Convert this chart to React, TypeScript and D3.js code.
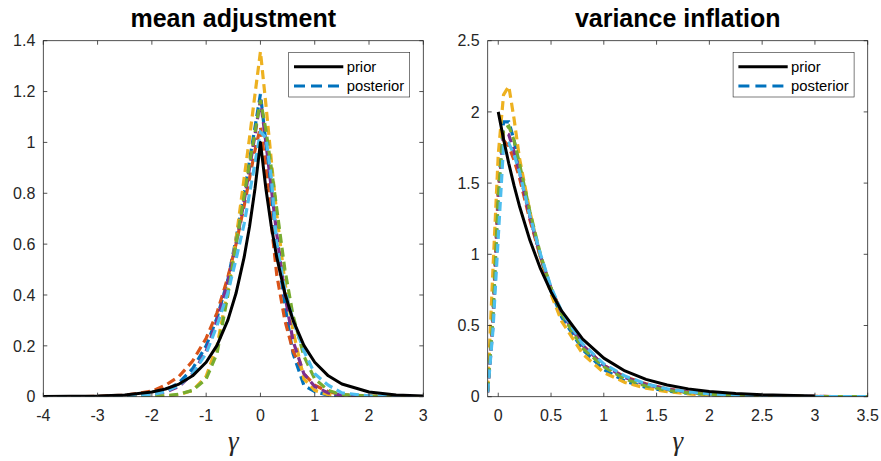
import * as d3 from "d3";

// ---- left panel: mean adjustment ----
const leftX = [-4, -3, -2.5, -2, -1.75, -1.5, -1.25, -1, -0.8, -0.6, -0.45, -0.3, -0.2, -0.1, 0, 0.1, 0.2, 0.3, 0.45, 0.6, 0.8, 1, 1.25, 1.5, 2, 2.5, 3];
const leftPrior = [0.0003, 0.0025, 0.0067, 0.0183, 0.0302, 0.0498, 0.0821, 0.1353, 0.2019, 0.3012, 0.4066, 0.5488, 0.6703, 0.8187, 1.0, 0.8187, 0.6703, 0.5488, 0.4066, 0.3012, 0.2019, 0.1353, 0.0821, 0.0498, 0.0183, 0.0067, 0.0025];
const leftBlue = [0, 0.0005, 0.003, 0.012, 0.025, 0.055, 0.11, 0.2, 0.31, 0.46, 0.62, 0.8, 0.93, 1.06, 1.19, 1.0, 0.8, 0.6, 0.36, 0.17, 0.045, 0.02, 0.006, 0.002, 0, 0, 0];
const leftOrange = [0, 0.001, 0.006, 0.022, 0.045, 0.08, 0.14, 0.23, 0.33, 0.47, 0.6, 0.75, 0.86, 0.97, 1.06, 0.9, 0.68, 0.48, 0.3, 0.18, 0.09, 0.045, 0.02, 0.008, 0.003, 0.001, 0];
const leftYellow = [0, 0, 0, 0.001, 0.003, 0.008, 0.025, 0.08, 0.2, 0.42, 0.62, 0.86, 1.02, 1.19, 1.357, 1.15, 0.93, 0.72, 0.45, 0.26, 0.07, 0.025, 0.008, 0.003, 0.001, 0, 0];
const leftPurple = [0, 0, 0.002, 0.008, 0.018, 0.04, 0.09, 0.18, 0.3, 0.45, 0.6, 0.77, 0.9, 1.03, 1.167, 1.0, 0.82, 0.64, 0.4, 0.22, 0.09, 0.04, 0.015, 0.005, 0.001, 0, 0];
const leftGreen = [0, 0, 0, 0.001, 0.004, 0.01, 0.025, 0.07, 0.17, 0.4, 0.6, 0.79, 0.92, 1.04, 1.167, 1.05, 0.9, 0.74, 0.5, 0.32, 0.16, 0.07, 0.025, 0.008, 0.002, 0, 0];
const leftCyan = [0, 0, 0.002, 0.008, 0.02, 0.045, 0.09, 0.17, 0.28, 0.41, 0.54, 0.68, 0.8, 0.92, 1.04, 1.02, 0.86, 0.6, 0.42, 0.3, 0.18, 0.09, 0.045, 0.015, 0.003, 0.001, 0];
const leftXTicks = [-4, -3, -2, -1, 0, 1, 2, 3];
const leftYTicks = [0, 0.2, 0.4, 0.6, 0.8, 1, 1.2, 1.4];

// ---- right panel: variance inflation ----
const rightPriorX = [0, 0.05, 0.1, 0.15, 0.2, 0.3, 0.4, 0.5, 0.6, 0.8, 1, 1.2, 1.4, 1.6, 1.8, 2, 2.25, 2.5, 3];
const rightPrior = [2, 1.81, 1.637, 1.482, 1.341, 1.098, 0.899, 0.736, 0.602, 0.404, 0.271, 0.181, 0.122, 0.082, 0.055, 0.037, 0.022, 0.013, 0.005];
const rightX = [-0.1, -0.05, 0, 0.05, 0.1, 0.15, 0.2, 0.3, 0.4, 0.5, 0.6, 0.8, 1, 1.2, 1.4, 1.6, 1.8, 2, 2.25, 2.5, 3, 3.5];
const rightBlue = [0.04, 0.6, 1.45, 1.93, 1.93, 1.8, 1.62, 1.27, 0.98, 0.74, 0.56, 0.33, 0.19, 0.11, 0.065, 0.04, 0.024, 0.014, 0.007, 0.003, 0.001, 0];
const rightOrange = [0.03, 0.55, 1.45, 1.8, 1.76, 1.66, 1.54, 1.24, 0.98, 0.76, 0.59, 0.36, 0.22, 0.14, 0.09, 0.055, 0.034, 0.021, 0.011, 0.006, 0.002, 0];
const rightYellow = [0.05, 0.9, 1.7, 2.12, 2.18, 1.95, 1.68, 1.3, 0.98, 0.72, 0.53, 0.3, 0.17, 0.1, 0.06, 0.035, 0.02, 0.011, 0.005, 0.002, 0, 0];
const rightPurple = [0.03, 0.5, 1.35, 1.86, 1.84, 1.72, 1.58, 1.26, 0.99, 0.76, 0.59, 0.36, 0.22, 0.135, 0.085, 0.052, 0.032, 0.02, 0.011, 0.006, 0.002, 0];
const rightGreen = [0.04, 0.55, 1.4, 1.88, 1.9, 1.8, 1.64, 1.3, 1.0, 0.76, 0.58, 0.34, 0.21, 0.125, 0.075, 0.045, 0.027, 0.016, 0.008, 0.004, 0.001, 0];
const rightCyan = [0.03, 0.47, 1.12, 1.76, 1.78, 1.7, 1.58, 1.27, 1.0, 0.77, 0.6, 0.37, 0.23, 0.145, 0.09, 0.055, 0.034, 0.02, 0.011, 0.005, 0.001, 0];
const rightXTicks = [0, 0.5, 1, 1.5, 2, 2.5, 3, 3.5];
const rightYTicks = [0, 0.5, 1, 1.5, 2, 2.5];

const colors = ["#0072BD", "#D95319", "#EDB120", "#7E2F8E", "#77AC30", "#4DBEEE"];
const legendLabels = ["prior", "posterior"];

const FONT = "'Liberation Sans', Arial, Helvetica, sans-serif";
const AXIS = "#262626";

type PanelProps = {
  id: string;
  title: string;
  left: number;
  right: number;
  xDomain: [number, number];
  yDomain: [number, number];
  xTicks: number[];
  yTicks: number[];
  xs: number[];
  posts: number[][];
  priorX: number[];
  prior: number[];
};

const TOP = 40.7;
const BOTTOM = 396.7;

function Panel(p: PanelProps) {
  const x = d3.scaleLinear().domain(p.xDomain).range([p.left, p.right]);
  const y = d3.scaleLinear().domain(p.yDomain).range([BOTTOM, TOP]);
  const line = d3
    .line<[number, number]>()
    .x((d) => x(d[0]))
    .y((d) => y(d[1]));
  const tk = 4;
  const lgX = p.right - 134.6;
  const lgY = TOP + 11.6;
  const cx = (p.left + p.right) / 2;

  return (
    <g>
      <defs>
        <clipPath id={p.id}>
          <rect x={p.left} y={TOP} width={p.right - p.left} height={BOTTOM - TOP} />
        </clipPath>
      </defs>
      <rect x={p.left} y={TOP} width={p.right - p.left} height={BOTTOM - TOP} fill="#fff" />

      <g clipPath={`url(#${p.id})`}>
        {p.posts.map((ys, i) => (
          <path
            key={i}
            d={line(p.xs.map((v, j) => [v, ys[j]] as [number, number])) || ""}
            fill="none"
            stroke={colors[i]}
            strokeWidth={3.2}
            strokeDasharray="9,5"
          />
        ))}
        <path
          d={line(p.priorX.map((v, j) => [v, p.prior[j]] as [number, number])) || ""}
          fill="none"
          stroke="#000"
          strokeWidth={3}
          strokeLinejoin="round"
        />
      </g>

      {/* box and ticks */}
      <rect x={p.left} y={TOP} width={p.right - p.left} height={BOTTOM - TOP} fill="none" stroke={AXIS} strokeWidth={0.8} />
      {p.xTicks.map((t) => (
        <g key={"x" + t}>
          <line x1={x(t)} x2={x(t)} y1={BOTTOM} y2={BOTTOM - tk} stroke={AXIS} strokeWidth={0.8} />
          <line x1={x(t)} x2={x(t)} y1={TOP} y2={TOP + tk} stroke={AXIS} strokeWidth={0.8} />
          <text x={x(t)} y={420.5} textAnchor="middle" fontFamily={FONT} fontSize={16} fill={AXIS}>
            {String(t)}
          </text>
        </g>
      ))}
      {p.yTicks.map((t) => (
        <g key={"y" + t}>
          <line x1={p.left} x2={p.left + tk} y1={y(t)} y2={y(t)} stroke={AXIS} strokeWidth={0.8} />
          <line x1={p.right} x2={p.right - tk} y1={y(t)} y2={y(t)} stroke={AXIS} strokeWidth={0.8} />
          <text x={p.left - 8} y={y(t) + 5.7} textAnchor="end" fontFamily={FONT} fontSize={16} fill={AXIS}>
            {String(t)}
          </text>
        </g>
      ))}

      <text x={cx} y={27} textAnchor="middle" fontFamily={FONT} fontWeight="bold" fontSize={25} fill="#000">
        {p.title}
      </text>
      <text x={cx} y={450} textAnchor="middle" fontFamily="'Liberation Serif', 'Times New Roman', serif" fontStyle="italic" fontSize={27} fill={AXIS}>
        γ
      </text>

      {/* legend */}
      <rect x={lgX} y={lgY} width={121} height={44.7} fill="#fff" stroke={AXIS} strokeWidth={0.6} />
      <line x1={lgX + 5.3} x2={lgX + 54.6} y1={lgY + 14.4} y2={lgY + 14.4} stroke="#000" strokeWidth={3} />
      <line x1={lgX + 5.3} x2={lgX + 54.6} y1={lgY + 33.7} y2={lgY + 33.7} stroke={colors[0]} strokeWidth={3} strokeDasharray="11,6" />
      <text x={lgX + 58} y={lgY + 19.5} fontFamily={FONT} fontSize={14.8} fill="#000">
        {legendLabels[0]}
      </text>
      <text x={lgX + 58} y={lgY + 38.8} fontFamily={FONT} fontSize={14.8} fill="#000">
        {legendLabels[1]}
      </text>
    </g>
  );
}

export default function App() {
  return (
    <svg width={881} height={461} style={{ position: "absolute", left: 0, top: 0, background: "#fff" }}>
      <rect width={881} height={461} fill="#fff" />
      <Panel
        id="clipL"
        title="mean adjustment"
        left={43.3}
        right={423.3}
        xDomain={[-4, 3]}
        yDomain={[0, 1.4]}
        xTicks={leftXTicks}
        yTicks={leftYTicks}
        xs={leftX}
        posts={[leftBlue, leftOrange, leftYellow, leftPurple, leftGreen, leftCyan]}
        priorX={leftX}
        prior={leftPrior}
      />
      <Panel
        id="clipR"
        title="variance inflation"
        left={487.7}
        right={867.7}
        xDomain={[-0.1, 3.5]}
        yDomain={[0, 2.5]}
        xTicks={rightXTicks}
        yTicks={rightYTicks}
        xs={rightX}
        posts={[rightBlue, rightOrange, rightYellow, rightPurple, rightGreen, rightCyan]}
        priorX={rightPriorX}
        prior={rightPrior}
      />
    </svg>
  );
}
